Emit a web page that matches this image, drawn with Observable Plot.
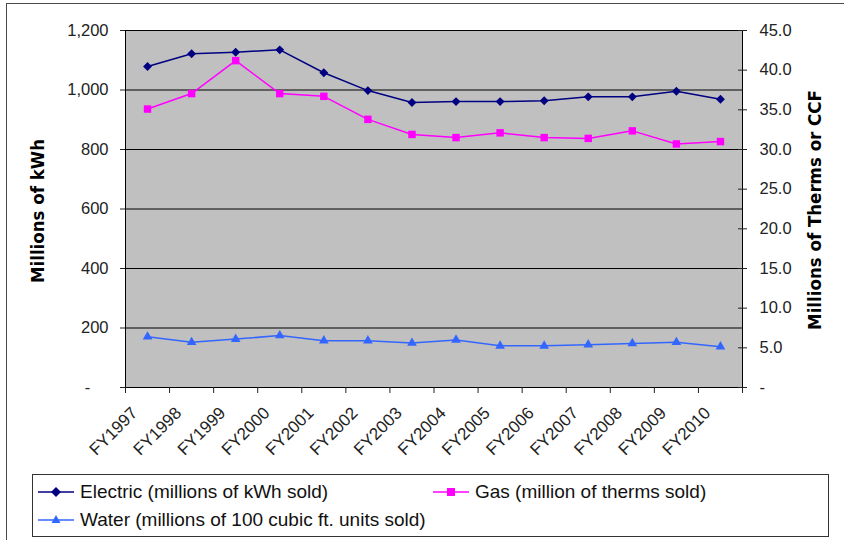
<!DOCTYPE html>
<html><head><meta charset="utf-8">
<script src="https://cdn.jsdelivr.net/npm/d3@7"></script>
<script src="https://cdn.jsdelivr.net/npm/@observablehq/plot@0.6"></script>
<style>
body{margin:0;background:#fff;}
#wrap{position:relative;width:844px;height:540px;overflow:hidden;font-family:"Liberation Sans",Arial,sans-serif;}
#frame{position:absolute;left:6px;top:3px;width:900px;height:600px;border:1.5px solid #4a4a4a;}
#chart{position:absolute;left:0;top:0;}
#legend{position:absolute;left:32px;top:474px;width:795px;height:61px;border:1.5px solid #333;background:#fff;}
.ico{position:absolute;}
.lab{position:absolute;font-size:19px;line-height:22px;white-space:nowrap;color:#111;}
</style></head><body>
<div id="wrap"><div id="frame"></div><div id="chart"></div><div id="legend"></div></div>
<script>
const years = ["FY1997","FY1998","FY1999","FY2000","FY2001","FY2002","FY2003","FY2004","FY2005","FY2006","FY2007","FY2008","FY2009","FY2010"];
const electric = [1079,1122,1127,1135,1058,998,958,961,961,964,977,977,996,969];
const gas = [35.1,37.05,41.2,37.05,36.7,33.8,31.9,31.5,32.1,31.5,31.4,32.35,30.7,31.0];
const water = [6.4,5.7,6.1,6.55,5.9,5.9,5.6,6.0,5.25,5.25,5.4,5.55,5.7,5.15];
const leftTicks = [0,200,400,600,800,1000,1200];
const rightTicks = [0,5,10,15,20,25,30,35,40,45];
const seriesNames = ["Electric (millions of kWh sold)","Gas (million of therms sold)","Water (millions of 100 cubic ft. units sold)"];
const colors = ["#000080","#FF00FF","#3366FF"];

const k = 1200/45; // right axis (0-45) mapped onto left axis (0-1200)
const rows = (vals, f) => vals.map((v,i)=>({x:i+0.5, y:v*f, year:years[i]}));
const eRows = rows(electric,1), gRows = rows(gas,k), wRows = rows(water,k);

const plot = Plot.plot({
  width:844, height:470,
  marginLeft:125, marginRight:102, marginTop:30, marginBottom:83,
  x:{domain:[0,14]},
  y:{domain:[0,1200]},
  style:{fontFamily:'"Liberation Sans",Arial,sans-serif', fontSize:"16px", color:"#222", background:"transparent", overflow:"visible"},
  marks:[
    Plot.frame({fill:"#c0c0c0"}),
    Plot.ruleY(leftTicks.filter(d=>d>0), {stroke:"#000", strokeWidth:1}),
    Plot.line(eRows,{x:"x",y:"y",stroke:colors[0],strokeWidth:1.5}),
    Plot.dot(eRows,{x:"x",y:"y",symbol:"diamond2",r:4,fill:colors[0]}),
    Plot.line(gRows,{x:"x",y:"y",stroke:colors[1],strokeWidth:1.5}),
    Plot.dot(gRows,{x:"x",y:"y",symbol:"square",r:4.2,fill:colors[1]}),
    Plot.line(wRows,{x:"x",y:"y",stroke:colors[2],strokeWidth:1.5}),
    Plot.dot(wRows,{x:"x",y:"y",symbol:"triangle",r:3.6,fill:colors[2]}),
    Plot.frame({stroke:"#000", strokeWidth:1}),
    Plot.axisY(leftTicks,{anchor:"left",tickSize:5,tickPadding:12,fontSize:16.5,label:null,
      tickFormat:d=>d===0?"-\u00a0\u00a0\u00a0\u00a0":d3.format(",")(d)}),
    Plot.axisY(rightTicks.map(v=>v*k),{anchor:"right",tickSize:4,tickPadding:13,fontSize:16.5,label:null,
      tickFormat:d=>d===0?"-":(d/k).toFixed(1)}),
    Plot.axisY(rightTicks.map(v=>v*k),{anchor:"right",tickSize:5,dx:-5,label:null,tickFormat:()=>""}),
    Plot.axisX(d3.range(15),{tickSize:6,label:null,tickFormat:()=>""}),
    Plot.axisX(d3.range(14).map(i=>i+0.5),{tickSize:0,tickRotate:-45,fontSize:17,dx:-13,dy:11,label:null,
      tickFormat:d=>years[Math.floor(d)]})
  ]
});
document.getElementById("chart").appendChild(plot);

const svg = d3.select(plot);
const tfont = '"DejaVu Sans Condensed","DejaVu Sans",sans-serif';
svg.append("text").attr("transform","translate(39,211) rotate(-90)")
  .attr("text-anchor","middle").attr("dominant-baseline","middle")
  .style("font-family",tfont).style("font-weight","bold").style("font-size","18.5px").attr("fill","#000")
  .text("Millions of kWh");
svg.append("text").attr("transform","translate(816,210) rotate(-90)")
  .attr("text-anchor","middle").attr("dominant-baseline","middle")
  .style("font-family",tfont).style("font-weight","bold").style("font-size","18.5px").attr("fill","#000")
  .text("Millions of Therms or CCF");

// legend
const leg = d3.select("#legend");
const items = [
  {name:seriesNames[0], color:colors[0], sym:"diamond", ix:5, tx:47, cy:17},
  {name:seriesNames[1], color:colors[1], sym:"square", ix:400, tx:442, cy:17},
  {name:seriesNames[2], color:colors[2], sym:"triangle", ix:5, tx:47, cy:45}
];
items.forEach(it=>{
  const s = leg.append("svg").attr("class","ico").attr("width",36).attr("height",14)
    .style("left",it.ix+"px").style("top",(it.cy-7)+"px");
  s.append("line").attr("x1",0).attr("x2",36).attr("y1",7).attr("y2",7).attr("stroke",it.color).attr("stroke-width",1.5);
  if(it.sym==="diamond") s.append("path").attr("d","M18,2L23,7L18,12L13,7Z").attr("fill",it.color);
  if(it.sym==="square") s.append("rect").attr("x",14).attr("y",3).attr("width",8).attr("height",8).attr("fill",it.color);
  if(it.sym==="triangle") s.append("path").attr("d","M18,2L22.5,10L13.5,10Z").attr("fill",it.color);
  leg.append("span").attr("class","lab").style("left",it.tx+"px").style("top",(it.cy-11)+"px").text(it.name);
});
</script>
</body></html>
